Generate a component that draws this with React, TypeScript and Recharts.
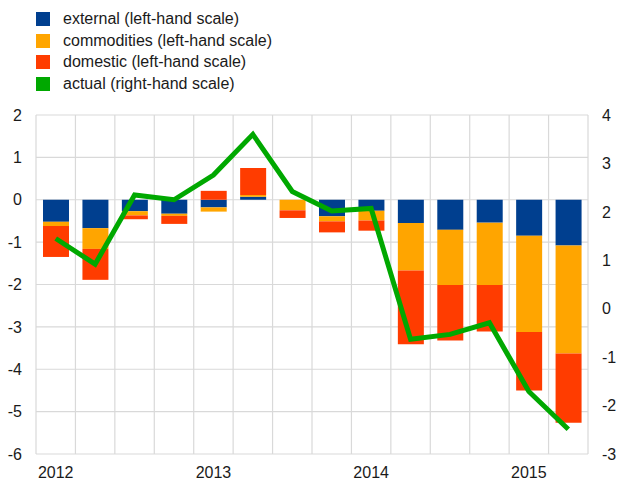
import React from "react";
import {
  ComposedChart,
  Bar,
  Line,
  XAxis,
  YAxis,
  CartesianGrid,
} from "recharts";

const quarters = [
  "2012Q1", "2012Q2", "2012Q3", "2012Q4",
  "2013Q1", "2013Q2", "2013Q3", "2013Q4",
  "2014Q1", "2014Q2", "2014Q3", "2014Q4",
  "2015Q1", "2015Q2",
];
const external = [-0.52, -0.67, -0.27, -0.33, -0.18, 0.07, 0, -0.39, -0.26, -0.55, -0.71, -0.54, -0.85, -1.08];
const commodities = [-0.1, -0.49, -0.1, -0.05, -0.1, 0.04, -0.25, -0.12, -0.23, -1.12, -1.3, -1.47, -2.27, -2.55];
const domestic = [-0.73, -0.73, -0.09, -0.19, 0.21, 0.64, -0.18, -0.26, -0.24, -1.74, -1.31, -1.1, -1.38, -1.63];
const actual = [1.45, 0.92, 2.35, 2.25, 2.76, 3.6, 2.42, 2.02, 2.07, -0.63, -0.53, -0.29, -1.71, -2.49];

const leftTicks = [-6, -5, -4, -3, -2, -1, 0, 1, 2];
const rightTicks = [-3, -2, -1, 0, 1, 2, 3, 4];

const COLORS = {
  external: "#003f8f",
  commodities: "#ffa500",
  domestic: "#ff3c00",
  actual: "#00a800",
};

const legendItems = [
  { label: "external (left-hand scale)", color: COLORS.external },
  { label: "commodities (left-hand scale)", color: COLORS.commodities },
  { label: "domestic (left-hand scale)", color: COLORS.domestic },
  { label: "actual (right-hand scale)", color: COLORS.actual },
];

const data = quarters.map((q, i) => ({
  q,
  external: external[i],
  commodities: commodities[i],
  domestic: domestic[i],
  actual: actual[i],
}));

const FONT = "'Liberation Sans', Arial, sans-serif";
const tickStyle = { fontSize: 16, fill: "#1a1a1a", fontFamily: FONT };

export default function App() {
  return (
    <div style={{ position: "absolute", left: 0, top: 0, width: 618, height: 481, background: "#fff", fontFamily: FONT }}>
      <div style={{ position: "absolute", left: 36, top: 8 }}>
        {legendItems.map((item) => (
          <div key={item.label} style={{ display: "flex", alignItems: "center", height: 21.7 }}>
            <span style={{ width: 14, height: 14, background: item.color, display: "inline-block" }} />
            <span style={{ marginLeft: 13, fontSize: 16, color: "#1a1a1a", lineHeight: "18px" }}>{item.label}</span>
          </div>
        ))}
      </div>
      <ComposedChart
        width={618}
        height={481}
        data={data}
        stackOffset="sign"
        margin={{ top: 115, right: 0, bottom: 0, left: 0 }}
      >
        <CartesianGrid
          yAxisId="left"
          stroke="#d9d9d9"
          strokeWidth={1.2}
          verticalCoordinatesGenerator={({ offset }: any) =>
            quarters.map((_, i) => offset.left + (i * offset.width) / quarters.length).concat(offset.left + offset.width)
          }
        />
        <XAxis
          dataKey="q"
          height={27}
          interval={0}
          axisLine={false}
          tickLine={false}
          tickMargin={7}
          tick={tickStyle}
          tickFormatter={(v: string) => (v.endsWith("Q1") ? v.slice(0, 4) : "")}
        />
        <YAxis
          yAxisId="left"
          width={36}
          domain={[-6, 2]}
          ticks={leftTicks}
          axisLine={false}
          tickLine={false}
          tickMargin={8}
          tick={tickStyle}
        />
        <YAxis
          yAxisId="right"
          orientation="right"
          width={30}
          domain={[-3, 4]}
          ticks={rightTicks}
          axisLine={false}
          tickLine={false}
          tickMargin={8}
          tick={{ ...tickStyle, textAnchor: "start" }}
        />
        <Bar yAxisId="left" dataKey="external" stackId="a" fill={COLORS.external} barSize={26} isAnimationActive={false} />
        <Bar yAxisId="left" dataKey="commodities" stackId="a" fill={COLORS.commodities} barSize={26} isAnimationActive={false} />
        <Bar yAxisId="left" dataKey="domestic" stackId="a" fill={COLORS.domestic} barSize={26} isAnimationActive={false} />
        <Line
          yAxisId="right"
          type="linear"
          dataKey="actual"
          stroke={COLORS.actual}
          strokeWidth={5}
          dot={false}
          isAnimationActive={false}
        />
      </ComposedChart>
    </div>
  );
}
